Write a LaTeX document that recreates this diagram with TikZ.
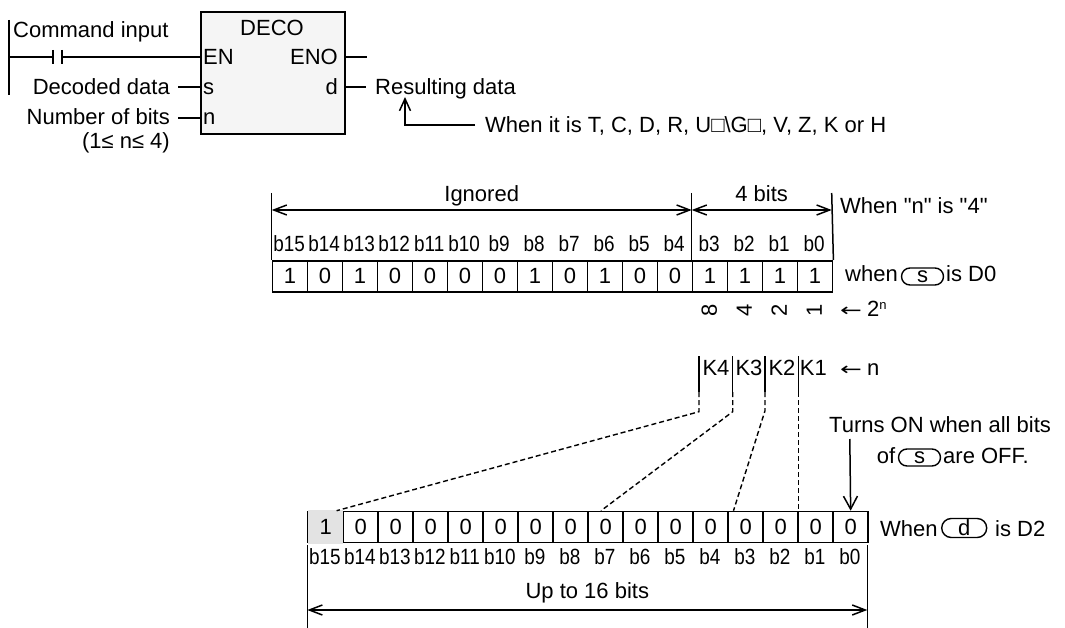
\documentclass[tikz,border=0pt]{standalone}
\usepackage{fontspec}
\setmainfont{Liberation Sans}
\newfontfamily\narrowf{Liberation Sans}[FakeStretch=0.86]
\newfontfamily\dejavu{DejaVu Sans}
\usetikzlibrary{arrows.meta}
\tikzset{
  txt/.style={inner sep=0pt, font=\fontsize{22}{26}\selectfont},
  bl/.style={inner sep=0pt, font=\fontsize{22}{26}\selectfont\narrowf, anchor=base},
  cell/.style={draw, line width=1.7pt, minimum width=35pt, minimum height=31pt, inner sep=0pt, anchor=north west, font=\fontsize{22}{26}\selectfont},
  ln/.style={line width=1.5pt},
  barb/.style={line width=1.5pt, {Straight Barb[length=13pt,width=10pt]}-{Straight Barb[length=13pt,width=10pt]}},
  oval/.style={draw, line width=1.4pt, rounded corners=8.5pt, minimum width=42pt, minimum height=17pt, inner sep=0pt, font=\fontsize{22}{26}\selectfont},
  kdash/.style={line width=1.4pt, dash pattern=on 5pt off 3pt},
}
\newcommand{\larr}{\scalebox{1.45}[1]{\dejavu\fontsize{18}{22}\selectfont ←}}
\begin{document}
\begin{tikzpicture}[x=1pt,y=-1pt]
\useasboundingbox (0,0) rectangle (1065,628);
% ---------- ladder / DECO block ----------
\node[draw, line width=1.7pt, fill=gray!8, minimum width=144pt, minimum height=122pt, inner sep=0pt, anchor=north west] (deco) at (200,11) {};
\node[txt, anchor=base] (decot) at (272,35.5) {DECO};
\node[txt, anchor=base west] (en) at (203,64.5) {EN};
\node[txt, anchor=base east] (eno) at (338,64.5) {ENO};
\node[txt, anchor=base west] (sin) at (203,94.5) {s};
\node[txt, anchor=base east] (dout) at (338,94.5) {d};
\node[txt, anchor=base west] (nin) at (203,125) {n};
\node[txt, anchor=base west] (cmd) at (13,37.5) {Command input};
\node[txt, anchor=base east] (dec) at (170,94.5) {Decoded data};
\node[txt, anchor=base east] (nob) at (170,125) {Number of bits};
\node[txt, anchor=base east] (rng) at (170,148.5) {(1≤ n≤ 4)};
\node[txt, anchor=base west] (res) at (375,94.5) {Resulting data};
\node[txt, anchor=base west] (when1) at (485,133) {When it is T, C, D, R, U□\textbackslash G□, V, Z, K or H};
% rail and contact
\coordinate (railT) at (9,20);
\coordinate (railB) at (9,95);
\draw[ln] (railT) -- (railB);
\coordinate (c0) at (9,57);
\coordinate (cA) at (53,57);
\coordinate (cB) at (62,57);
\coordinate (cEN) at (200,57);
\draw[ln] (c0) -- (cA);
\draw[ln] (cB) -- (cEN);
\draw[ln] (53,50) -- (53,64);
\draw[ln] (62,50) -- (62,64);
% input / output stubs
\coordinate (sL) at (178,87); \coordinate (sR) at (200,87);
\coordinate (nL) at (178,118); \coordinate (nR) at (200,118);
\coordinate (enoL) at (344,57); \coordinate (enoR) at (367,57);
\coordinate (dL) at (344,87); \coordinate (dR) at (366,87);
\draw[ln] (sL) -- (sR);
\draw[ln] (nL) -- (nR);
\draw[ln] (enoL) -- (enoR);
\draw[ln] (dL) -- (dR);
% arrow to Resulting data
\coordinate (rdE) at (475,125);
\coordinate (rdA) at (405,125);
\coordinate (rdT) at (405,97);
\draw[ln, -{Straight Barb[length=12pt,width=11pt]}] (rdE) -- (rdA) -- (rdT);
% ---------- source word ----------
\foreach \v [count=\c from 0] in {1,0,1,0,0,0,0,1,0,1,0,0,1,1,1,1} {
  \pgfmathtruncatemacro\b{15-\c}
  \node[cell] (t\b) at (271.7+35*\c,260) {\v};
  \node[bl] (tl\b) at (289.2+35*\c,251.7) {b\b};
}
\coordinate (vL) at (271.7,193);
\coordinate (vM) at (691.7,193);
\coordinate (vR) at (831.7,193);
\draw[ln] (vL) -- (t15.north west);
\draw[ln] (vM) -- (t3.north west);
\draw[ln] (vR) -- (t0.north east);
\coordinate (aL) at (271.7,210);
\coordinate (aM) at (691.7,210);
\coordinate (aR) at (831.7,210);
\draw[barb] (aL) -- (aM);
\draw[barb] (aM) -- (aR);
\node[txt, anchor=base] (ign) at (481.7,201.5) {Ignored};
\node[txt, anchor=base] (fb) at (761.7,201.5) {4 bits};
\node[txt, anchor=base west] (whenn) at (840,214) {When \textquotedbl n\textquotedbl{} is \textquotedbl 4\textquotedbl};
% when (s) is D0
\node[txt, anchor=base west] (w2a) at (845,282) {when};
\node[oval] (os1) at (922.5,276.5) {s};
\node[txt, anchor=base west] (w2b) at (946,282) {is D0};
% 2^n row
\node[txt, rotate=90] (p8) at (709.2,310) {8};
\node[txt, rotate=90] (p4) at (744.2,310) {4};
\node[txt, rotate=90] (p2) at (779.2,310) {2};
\node[txt, rotate=90] (p1) at (814.2,310) {1};
\node[txt, anchor=base west] (pn) at (840,316.7) {\larr\hspace{5pt}2\raisebox{7pt}{\fontsize{13}{13}\selectfont n}};
% K row
\node[txt, anchor=base] (k4) at (716,375) {K4};
\node[txt, anchor=base] (k3) at (749,375) {K3};
\node[txt, anchor=base] (k2) at (782,375) {K2};
\node[txt, anchor=base] (k1) at (813.3,375) {K1};
\node[txt, anchor=base west] (kn) at (840,375) {\larr\hspace{5pt}n};
\coordinate (k4t) at (699,356); \coordinate (k4m) at (699,392); \coordinate (k4c) at (699,411.7);
\coordinate (k3t) at (732.7,356); \coordinate (k3m) at (732.7,392); \coordinate (k3c) at (732.7,411.7);
\coordinate (k2t) at (765,356); \coordinate (k2m) at (765,392); \coordinate (k2c) at (765,410.7);
\coordinate (k1t) at (798.7,356); \coordinate (k1m) at (798.7,392);
\draw[ln] (k4t) -- (k4m);
\draw[ln] (k3t) -- (k3m);
\draw[ln] (k2t) -- (k2m);
\draw[ln] (k1t) -- (k1m);
% ---------- result word ----------
\foreach \v [count=\c from 0] in {1,0,0,0,0,0,0,0,0,0,0,0,0,0,0,0} {
  \pgfmathtruncatemacro\b{15-\c}
  \node[cell] (r\b) at (307.3+35*\c,510.7) {\v};
  \node[bl] (rl\b) at (324.8+35*\c,564.3) {b\b};
}
\fill[gray!22] ([shift={(0.85,-0.85)}]r15.north west) rectangle ([shift={(-0.85,0.85)}]r15.south east);
\node[txt] at (r15.center) {1};
\coordinate (e4) at (336.6,510.7);
\coordinate (e3) at (601,510.7);
\coordinate (e2) at (733.5,510.7);
\coordinate (e1) at (798.7,510.7);
\draw[kdash] (k4m) -- (k4c) -- (e4);
\draw[kdash] (k3m) -- (k3c) -- (e3);
\draw[kdash] (k2m) -- (k2c) -- (e2);
\draw[kdash] (k1m) -- (e1);
% Turns ON note
\node[txt, anchor=base west] (ton1) at (829,432.7) {Turns ON when all bits};
\node[txt, anchor=base west] (ton2) at (876.7,463.3) {of};
\node[oval] (os2) at (919.5,457.5) {s};
\node[txt, anchor=base west] (ton3) at (943,463.3) {are OFF.};
\coordinate (tonA) at (849.8,439);
\draw[ln, -{Straight Barb[length=13pt,width=14pt]}] (tonA) -- (r0.north);
% When (d) is D2
\node[txt, anchor=base west] (w3a) at (880,536) {When};
\node[oval, minimum height=19pt, minimum width=45pt, rounded corners=9.5pt] (od) at (964.2,528) {d};
\node[txt, anchor=base west] (w3b) at (995,536) {is D2};
% bottom dimension
\coordinate (bL) at (307.3,545);
\coordinate (bLb) at (307.3,628);
\coordinate (bR) at (867.3,545);
\coordinate (bRb) at (867.3,628);
\draw[ln] (bL) -- (bLb);
\draw[ln] (bR) -- (bRb);
\coordinate (baL) at (307.3,610);
\coordinate (baR) at (867.3,610);
\draw[barb] (baL) -- (baR);
\node[txt, anchor=base] (up16) at (587.3,598) {Up to 16 bits};
\end{tikzpicture}
\end{document}
